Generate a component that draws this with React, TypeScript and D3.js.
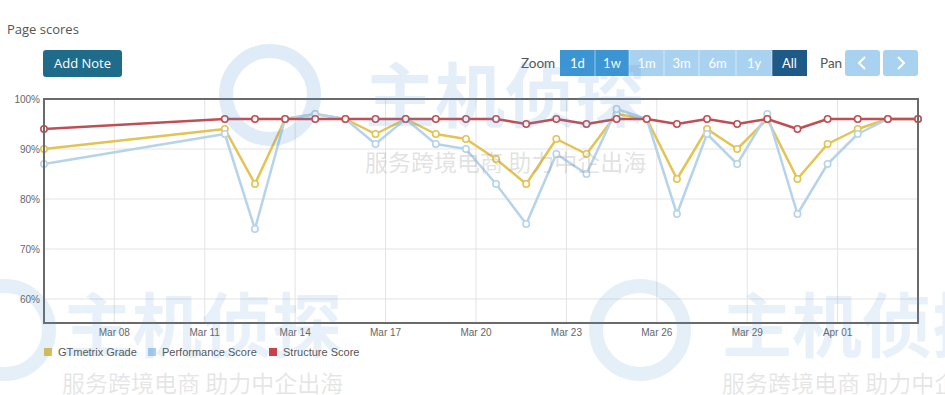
import React from "react";
import * as d3 from "d3";

const dates = [
  "2019-03-05", "2019-03-11", "2019-03-12", "2019-03-13", "2019-03-14", "2019-03-15",
  "2019-03-16", "2019-03-17", "2019-03-18", "2019-03-19", "2019-03-20", "2019-03-21",
  "2019-03-22", "2019-03-23", "2019-03-24", "2019-03-25", "2019-03-26", "2019-03-27",
  "2019-03-28", "2019-03-29", "2019-03-30", "2019-03-31", "2019-04-01", "2019-04-02",
  "2019-04-03",
];
const gtmetrixGrade = [90, 94, 83, 96, 97, 96, 93, 96, 93, 92, 88, 83, 92, 89, 97, 96, 84, 94, 90, 96, 84, 91, 94, 96, 96];
const performanceScore = [87, 93, 74, 96, 97, 96, 91, 96, 91, 90, 83, 75, 89, 85, 98, 96, 77, 93, 87, 97, 77, 87, 93, 96, 96];
const structureScore = [94, 96, 96, 96, 96, 96, 96, 96, 96, 96, 96, 95, 96, 95, 96, 96, 95, 96, 95, 96, 94, 96, 96, 96, 96];
const xTickDates = ["2019-03-08", "2019-03-11", "2019-03-14", "2019-03-17", "2019-03-20", "2019-03-23", "2019-03-26", "2019-03-29", "2019-04-01"];
const yTicks = [60, 70, 80, 90, 100];
const zoomLabels = ["1d", "1w", "1m", "3m", "6m", "1y", "All"];
const seriesNames = ["GTmetrix Grade", "Performance Score", "Structure Score"];

const parseTime = d3.timeParse("%Y-%m-%d %H:%M");
const parseDay = d3.timeParse("%Y-%m-%d");
const fmt = d3.timeFormat("%b %d");

export default function App() {
  const W = 945, H = 395;
  const left = 44, right = 918, top = 99, bottom = 323;
  const times = dates.map((d) => parseTime(d + " 16:00") as Date);
  const x = d3.scaleTime().domain([times[0], times[times.length - 1]]).range([left, right]);
  const y = d3.scaleLinear().domain([55.2, 100]).range([bottom, top]);

  const series = [
    { name: seriesNames[0], values: gtmetrixGrade, color: "#e3c352", legend: "#e8c04a" },
    { name: seriesNames[1], values: performanceScore, color: "#b6d3ec", legend: "#a9cdee" },
    { name: seriesNames[2], values: structureScore, color: "#bf4f55", legend: "#c9414b" },
  ];
  const line = d3.line<number>().x((_, i) => x(times[i])).y((v) => y(v));

  const zoomX = [560, 595, 629, 664, 699, 736, 772, 807];
  const zoomFill = (i: number) => (i < 2 ? "#3b95d3" : i === 6 ? "#1d5a87" : "#a8d2ef");

  const legendX = [44, 148, 269];
  const font = "'Liberation Sans', Arial, sans-serif";

  return (
    <svg width={W} height={H} style={{ position: "absolute", left: 0, top: 0, background: "#fff" }}>
      <rect x={0} y={0} width={W} height={H} fill="#fff" />
      <text x={7} y={34} fontFamily="'Open Sans', sans-serif" fontSize={13} fill="#555">Page scores</text>

      <rect x={43} y={50} width={79} height={27} rx={3} fill="#1f6b8a" />
      <text x={82.5} y={68} textAnchor="middle" fontFamily="'Open Sans', sans-serif" fontSize={13} fill="#fff">Add Note</text>

      <text x={521} y={68} fontFamily="Lato, sans-serif" fontSize={13.5} fill="#555">Zoom</text>
      {zoomLabels.map((lab, i) => (
        <g key={lab}>
          <rect x={zoomX[i]} y={50} width={zoomX[i + 1] - zoomX[i]} height={26} fill={zoomFill(i)} />
          {i > 0 && <line x1={zoomX[i]} x2={zoomX[i]} y1={50} y2={76} stroke="#fff" strokeOpacity={0.5} />}
          <text x={(zoomX[i] + zoomX[i + 1]) / 2} y={68} textAnchor="middle" fontFamily="Lato, sans-serif" fontSize={13} fill="#fff">{lab}</text>
        </g>
      ))}
      <text x={820} y={68} fontFamily="Lato, sans-serif" fontSize={13.5} fill="#555">Pan</text>
      {[845, 883].map((bx, i) => (
        <g key={bx}>
          <rect x={bx} y={50} width={35} height={26} rx={3} fill="#a8d2ef" />
          <path d={i === 0 ? `M${bx + 20},57 L${bx + 14},63 L${bx + 20},69` : `M${bx + 15},57 L${bx + 21},63 L${bx + 15},69`} fill="none" stroke="#fff" strokeWidth={2} />
        </g>
      ))}

      {/* plot area */}
      <rect x={left} y={top} width={right - left} height={bottom - top} fill="#fff" />
      {yTicks.map((t) => (
        <g key={t}>
          <line x1={left} x2={right} y1={y(t)} y2={y(t)} stroke="#e3e3e3" />
          <text x={40} y={y(t)} dy="0.35em" textAnchor="end" fontFamily={font} fontSize={10} fill="#666">{t}%</text>
        </g>
      ))}
      {xTickDates.map((d) => {
        const t = parseDay(d) as Date;
        return (
          <g key={d}>
            <line x1={x(t)} x2={x(t)} y1={top} y2={bottom} stroke="#e3e3e3" />
            <text x={x(t)} y={336} textAnchor="middle" fontFamily={font} fontSize={10} fill="#666">{fmt(t)}</text>
          </g>
        );
      })}

      {series.map((s) => (
        <g key={s.name}>
          <path d={line(s.values) || ""} fill="none" stroke={s.color} strokeWidth={2.5} strokeLinejoin="round" />
          {s.values.map((v, i) => (
            <circle key={i} cx={x(times[i])} cy={y(v)} r={3.2} fill="#fff" stroke={s.color} strokeWidth={1.6} />
          ))}
        </g>
      ))}

      <rect x={left} y={top} width={right - left} height={bottom - top} fill="none" stroke="#6a6a6a" strokeWidth={2} />

      {series.map((s, i) => (
        <g key={s.name}>
          <rect x={legendX[i]} y={348} width={8} height={8} fill={s.legend} />
          <text x={legendX[i] + 14} y={356} fontFamily={font} fontSize={11} fill="#555">{s.name}</text>
        </g>
      ))}

      {/* watermark */}
      <g pointerEvents="none">
        <circle cx={270} cy={95} r={44} fill="none" stroke="#4f93d2" strokeOpacity={0.18} strokeWidth={14} />
        <text x={365} y={122} fontFamily="'Noto Sans CJK SC', sans-serif" fontSize={70} fontWeight={700} fill="#4f93d2" fillOpacity={0.16}>主机侦探</text>
        <text x={365} y={171} fontFamily="'Noto Sans CJK SC', sans-serif" fontSize={23} fill="#999" fillOpacity={0.3}>服务跨境电商 助力中企出海</text>
        <circle cx={5} cy={330} r={44} fill="none" stroke="#4f93d2" strokeOpacity={0.15} strokeWidth={14} />
        <text x={62} y={352} fontFamily="'Noto Sans CJK SC', sans-serif" fontSize={70} fontWeight={700} fill="#4f93d2" fillOpacity={0.13}>主机侦探</text>
        <text x={62} y={392} fontFamily="'Noto Sans CJK SC', sans-serif" fontSize={23} fill="#999" fillOpacity={0.25}>服务跨境电商 助力中企出海</text>
        <circle cx={640} cy={330} r={44} fill="none" stroke="#4f93d2" strokeOpacity={0.15} strokeWidth={14} />
        <text x={722} y={352} fontFamily="'Noto Sans CJK SC', sans-serif" fontSize={70} fontWeight={700} fill="#4f93d2" fillOpacity={0.13}>主机侦探</text>
        <text x={722} y={392} fontFamily="'Noto Sans CJK SC', sans-serif" fontSize={23} fill="#999" fillOpacity={0.25}>服务跨境电商 助力中企出海</text>
      </g>
    </svg>
  );
}
